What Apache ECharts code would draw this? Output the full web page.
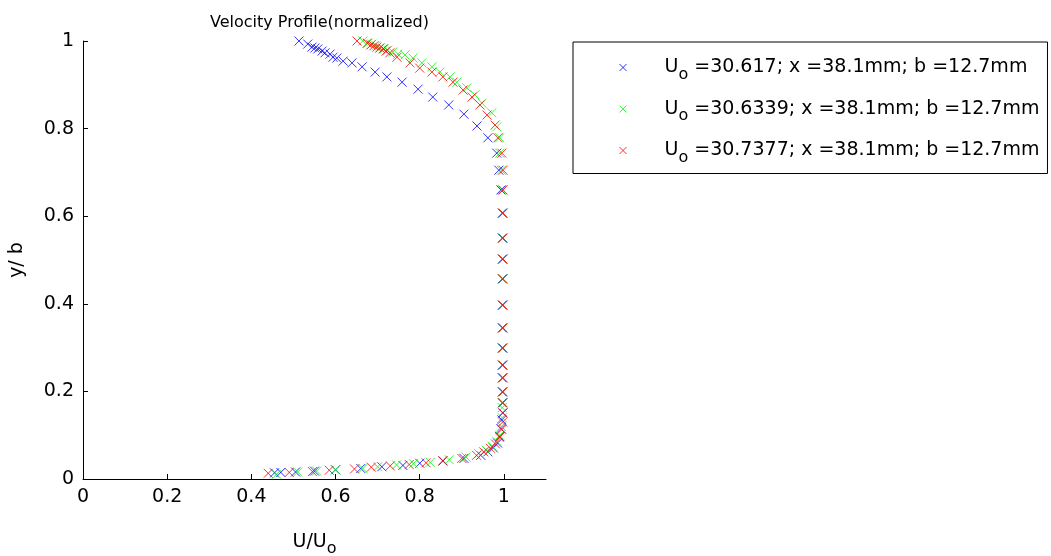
<!DOCTYPE html>
<html>
<head>
<meta charset="utf-8">
<script src="https://cdn.jsdelivr.net/npm/echarts@6/dist/echarts.min.js"></script>
<style>
  html, body { margin: 0; padding: 0; background: #fff; }
  #main { width: 1051px; height: 556px; }
</style>
</head>
<body>
<div id="main"></div>
<script>
// 数据 [U/Uo, y/b]
var blueData = [
  [0.455,0.014],[0.47,0.015],[0.505,0.016],[0.55,0.018],[0.60,0.021],[0.66,0.024],[0.71,0.028],
  [0.76,0.031],[0.80,0.036],[0.855,0.041],[0.905,0.047],[0.945,0.054],[0.962,0.062],[0.975,0.071],
  [0.985,0.082],[0.99,0.097],[0.993,0.115],[0.995,0.135],[0.997,0.151],[0.996,0.174],[0.996,0.199],
  [0.996,0.231],[0.996,0.26],[0.996,0.299],[0.996,0.345],[0.996,0.397],[0.996,0.457],[0.996,0.502],
  [0.996,0.55],[0.996,0.607],[0.993,0.66],[0.988,0.705],[0.983,0.744],[0.962,0.779],[0.936,0.806],
  [0.905,0.833],[0.869,0.854],[0.831,0.872],[0.796,0.89],[0.758,0.906],[0.722,0.918],[0.694,0.929],
  [0.663,0.941],[0.639,0.95],[0.618,0.954],[0.603,0.961],[0.594,0.963],[0.587,0.97],[0.575,0.973],
  [0.568,0.977],[0.558,0.982],[0.551,0.984],[0.544,0.986],[0.534,0.993],[0.513,1.0]
];
var greenData = [
  [0.46,0.011],[0.51,0.016],[0.555,0.018],[0.60,0.021],[0.665,0.024],[0.70,0.028],[0.745,0.032],
  [0.785,0.035],[0.825,0.038],[0.87,0.044],[0.91,0.05],[0.94,0.058],[0.958,0.066],[0.972,0.075],
  [0.983,0.086],[0.99,0.10],[0.994,0.12],[0.996,0.14],[0.996,0.163],[0.997,0.174],[0.997,0.199],
  [0.997,0.231],[0.997,0.26],[0.997,0.299],[0.997,0.345],[0.997,0.397],[0.997,0.457],[0.997,0.502],
  [0.997,0.55],[0.997,0.607],[0.996,0.66],[0.994,0.705],[0.99,0.744],[0.99,0.779],[0.983,0.804],
  [0.971,0.836],[0.948,0.858],[0.931,0.877],[0.912,0.893],[0.888,0.906],[0.872,0.918],[0.848,0.929],
  [0.829,0.941],[0.805,0.95],[0.784,0.961],[0.765,0.968],[0.748,0.97],[0.736,0.975],[0.724,0.979],
  [0.715,0.982],[0.705,0.984],[0.696,0.989],[0.686,0.993],[0.677,0.995],[0.665,1.0]
];
var redData = [
  [0.44,0.013],[0.49,0.015],[0.545,0.017],[0.585,0.02],[0.645,0.023],[0.685,0.027],[0.73,0.03],
  [0.775,0.033],[0.815,0.037],[0.855,0.042],[0.9,0.047],[0.935,0.054],[0.952,0.062],[0.968,0.07],
  [0.98,0.08],[0.99,0.095],[0.995,0.113],[0.997,0.13],[0.998,0.151],[0.998,0.174],[0.998,0.199],
  [0.998,0.231],[0.998,0.26],[0.998,0.299],[0.998,0.345],[0.998,0.397],[0.998,0.457],[0.998,0.502],
  [0.998,0.55],[0.998,0.607],[0.998,0.66],[0.998,0.705],[0.995,0.744],[0.986,0.779],[0.979,0.808],
  [0.96,0.831],[0.943,0.854],[0.924,0.872],[0.903,0.888],[0.879,0.906],[0.855,0.918],[0.829,0.929],
  [0.8,0.938],[0.777,0.95],[0.746,0.963],[0.729,0.973],[0.72,0.977],[0.713,0.982],[0.705,0.984],
  [0.698,0.986],[0.691,0.989],[0.684,0.991],[0.675,0.995],[0.651,1.0]
];
var uoValues = ['30.617', '30.6339', '30.7377'];
var seriesColors = ['#0000ff', '#00ff00', '#ff0000'];
var tickValues = [0, 0.2, 0.4, 0.6, 0.8, 1];

var FONT = 'DejaVu Sans, sans-serif';
var xMark = 'path://M0,0L10,10M10,0L0,10';
var allData = [blueData, greenData, redData];

var chart = echarts.init(document.getElementById('main'));

var seriesList = [];
var legendItems = [];
for (var i = 0; i < allData.length; i++) {
  seriesList.push({
    name: 'Uo' + uoValues[i],
    type: 'scatter',
    symbol: xMark,
    symbolSize: 9,
    data: allData[i],
    itemStyle: {
      color: 'none',
      borderColor: seriesColors[i],
      borderWidth: 1
    },
    emphasis: { disabled: true }
  });
  legendItems.push({
    name: 'Uo' + uoValues[i],
    itemStyle: { color: 'none', borderColor: seriesColors[i], borderWidth: 1 }
  });
}

chart.setOption({
  animation: false,
  textStyle: { fontFamily: FONT, color: '#000' },
  title: {
    text: 'Velocity Profile(normalized)',
    left: 314.5,
    top: 10,
    textAlign: 'center',
    textStyle: { fontSize: 16, fontWeight: 'normal', color: '#000', fontFamily: FONT }
  },
  legend: {
    orient: 'vertical',
    left: 573,
    top: 42,
    padding: [16, 8, 8, 44],
    borderColor: '#000',
    borderWidth: 1,
    itemWidth: 73,
    itemHeight: 7,
    itemGap: 17,
    selectedMode: false,
    data: legendItems,
    formatter: function (name) {
      var v = name.slice(2);
      return '{u|U}{s|o}{u| =' + v + '; x =38.1mm; b =12.7mm}';
    },
    textStyle: {
      fontFamily: FONT,
      rich: {
        u: { fontSize: 19, color: '#000', fontFamily: FONT },
        s: { fontSize: 16, color: '#000', fontFamily: FONT, padding: [14, 0, 0, 0] }
      }
    }
  },
  grid: { left: 83, top: 41, right: 505, bottom: 77, outerBoundsMode: 'none' },
  xAxis: {
    type: 'value',
    min: 0,
    max: 1.1,
    name: '{a|U/U}{b|o}',
    nameLocation: 'middle',
    nameGap: 48,
    nameTextStyle: {
      rich: {
        a: { fontSize: 19, color: '#000', fontFamily: FONT },
        b: { fontSize: 16, color: '#000', fontFamily: FONT, padding: [14, 0, 0, 0] }
      }
    },
    splitLine: { show: false },
    axisLine: { lineStyle: { color: '#000', width: 1 } },
    axisTick: { inside: true, length: 5, customValues: tickValues, lineStyle: { color: '#000' } },
    axisLabel: { customValues: tickValues, fontSize: 19, color: '#000', margin: 9, fontFamily: FONT }
  },
  yAxis: {
    type: 'value',
    min: 0,
    max: 1,
    interval: 0.2,
    name: 'y/ b',
    nameLocation: 'middle',
    nameGap: 56,
    nameTextStyle: { fontSize: 19, color: '#000', fontFamily: FONT },
    splitLine: { show: false },
    axisLine: { show: true, lineStyle: { color: '#000', width: 1 } },
    axisTick: { show: true, inside: true, length: 5, lineStyle: { color: '#000' } },
    axisLabel: { fontSize: 19, color: '#000', margin: 9, fontFamily: FONT }
  },
  series: seriesList
});
</script>
</body>
</html>
